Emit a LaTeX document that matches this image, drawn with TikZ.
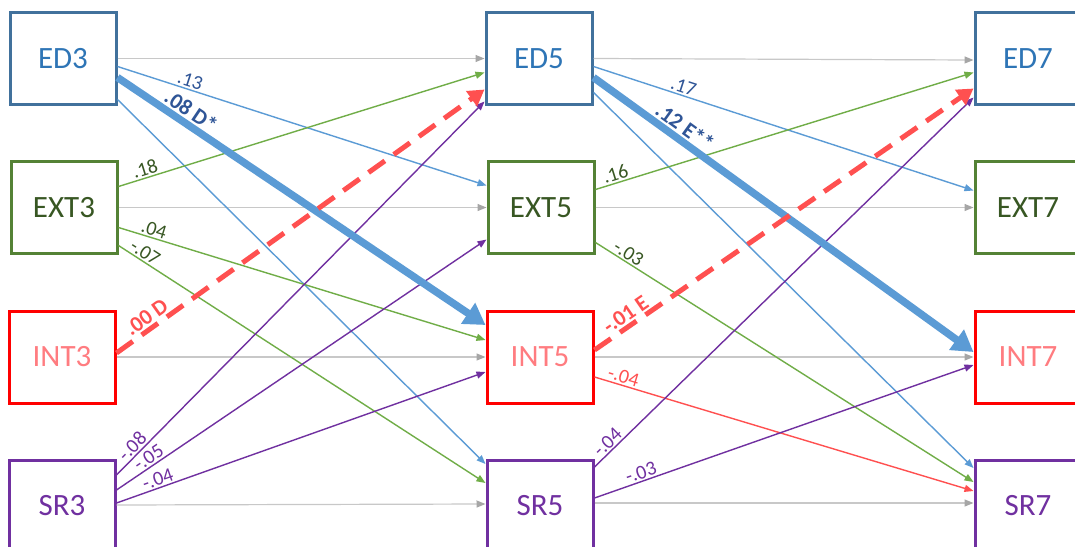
\documentclass[tikz,border=0pt]{standalone}
\usepackage{fontspec}
\setmainfont{Carlito}
\usetikzlibrary{arrows.meta,calc}
\definecolor{edborder}{HTML}{41719C}
\definecolor{edtext}{HTML}{2E75B6}
\definecolor{lb}{HTML}{5B9BD5}
\definecolor{dblue}{HTML}{2F5597}
\definecolor{extborder}{HTML}{548235}
\definecolor{exttext}{HTML}{385723}
\definecolor{lg}{HTML}{70AD47}
\definecolor{dgreen}{HTML}{385723}
\definecolor{intborder}{HTML}{FF0000}
\definecolor{inttext}{HTML}{FF7C80}
\definecolor{lr}{HTML}{FF5050}
\definecolor{pu}{HTML}{7030A0}
\definecolor{lgray}{HTML}{C8C8C8}
\definecolor{tgray}{HTML}{A6A6A6}
\begin{document}
\begin{tikzpicture}[x=1pt,y=-1pt,
  box/.style={rectangle, fill=white, minimum width=106pt, minimum height=92pt, line width=3pt, inner sep=0pt, font=\fontsize{31}{36}\selectfont},
  edbox/.style={box, draw=edborder, text=edtext},
  extbox/.style={box, draw=extborder, text=exttext},
  intbox/.style={box, draw=intborder, text=inttext},
  srbox/.style={box, draw=pu, text=pu},
  gline/.style={draw=lgray, line width=1.2pt, -{Triangle[length=9pt,width=7pt,color=tgray]}},
  arr/.style={line width=1.4pt, -{Triangle[length=9pt,width=7pt]}},
  thickb/.style={draw=lb, line width=7.5pt, -{Triangle[length=21pt,width=24pt]}},
  redd/.style={draw=lr, line width=5pt, dash pattern=on 20pt off 11pt, -{Triangle[length=16pt,width=18pt]}},
  lab/.style={sloped, above, inner sep=1.5pt, font=\fontsize{20}{22}\selectfont},
  blab/.style={sloped, above, inner sep=2pt, font=\bfseries\fontsize{22}{24}\selectfont}
]
\clip (0,0) rectangle (1075,546);
\fill[white] (0,0) rectangle (1075,546);
% boxes
\node[edbox]  (ED3)  at (63,58.5) {ED3};
\node[extbox] (EXT3) at (64,207.5) {EXT3};
\node[intbox] (INT3) at (62,357) {INT3};
\node[srbox]  (SR3)  at (62,506) {SR3};
\node[edbox]  (ED5)  at (539,58.5) {ED5};
\node[extbox] (EXT5) at (541,207.5) {EXT5};
\node[intbox] (INT5) at (540,357) {INT5};
\node[srbox]  (SR5)  at (540,506) {SR5};
\node[edbox]  (ED7)  at (1028,58.5) {ED7};
\node[extbox] (EXT7) at (1028,207.5) {EXT7};
\node[intbox] (INT7) at (1028,357) {INT7};
\node[srbox]  (SR7)  at (1028,506) {SR7};
% ---- wave 3 -> 5
\draw[gline] (ED3.east) -- (ED5.west);
\draw[gline] (EXT3.east) -- (EXT5.west);
\draw[gline] (INT3.east) -- (INT5.west);
\draw[gline] ($(SR3.east)+(0,-1)$) -- ($(SR5.west)+(0,-2)$);
\draw[arr, lb] ($(ED3.east)+(0,8)$) -- ($(EXT5.west)+(0,-22)$) node[lab, text=dblue, pos=0.19] {.13};
\draw[arr, lb] ($(ED3.east)+(0,41)$) -- ($(SR5.west)+(0,-42)$);
\draw[arr, lg] ($(EXT3.east)+(0,-21)$) -- ($(ED5.west)+(0,14)$) node[lab, text=dgreen, pos=0.08] {.18};
\draw[arr, lg] ($(EXT3.east)+(0,20)$) -- ($(INT5.west)+(0,-17)$) node[lab, text=dgreen, pos=0.09] {.04};
\draw[arr, lg] ($(EXT3.east)+(0,38)$) -- ($(SR5.west)+(0,-23)$) node[lab, text=dgreen, pos=0.06] {-.07};
\draw[arr, pu] ($(SR3.east)+(0,-31)$) -- ($(ED5.west)+(0,43)$) node[lab, text=pu, pos=0.06] {-.08};
\draw[arr, pu] ($(SR3.east)+(0,-16)$) -- ($(EXT5.west)+(0,32)$) node[lab, text=pu, pos=0.1] {-.05};
\draw[arr, pu] ($(SR3.east)+(0,-3)$) -- ($(INT5.west)+(0,15)$) node[lab, text=pu, pos=0.12] {-.04};
\draw[thickb] ($(ED3.east)+(0,19)$) -- ($(INT5.west)+(0,-32)$) node[blab, text=dblue, pos=0.18] {.08 D*};
\draw[redd] ($(INT3.east)+(0,-4)$) -- ($(ED5.west)+(0,31)$) node[blab, text=lr, pos=0.1] {.00 D};
% ---- wave 5 -> 7
\draw[gline] (ED5.east) -- ($(ED7.west)+(0,1.5)$);
\draw[gline] (EXT5.east) -- (EXT7.west);
\draw[gline] (INT5.east) -- (INT7.west);
\draw[gline] ($(SR5.east)+(0,-3)$) -- ($(SR7.west)+(0,-3)$);
\draw[arr, lb] ($(ED5.east)+(0,8)$) -- ($(EXT7.west)+(0,-17)$) node[lab, text=dblue, pos=0.23] {.17};
\draw[arr, lb] ($(ED5.east)+(0,34)$) -- ($(SR7.west)+(0,-38)$);
\draw[arr, lg] ($(EXT5.east)+(0,-18)$) -- ($(ED7.west)+(0,14)$) node[lab, text=dgreen, pos=0.06] {.16};
\draw[arr, lg] ($(EXT5.east)+(0,35)$) -- ($(SR7.west)+(0,-24)$) node[lab, text=dgreen, pos=0.075] {-.03};
\draw[arr, lr] ($(INT5.east)+(0,20)$) -- ($(SR7.west)+(0,-15)$) node[lab, text=lr, pos=0.07] {-.04};
\draw[arr, pu] ($(SR5.east)+(0,-39)$) -- ($(ED7.west)+(0,39)$) node[lab, text=pu, pos=0.05] {-.04};
\draw[arr, pu] ($(SR5.east)+(0,-8)$) -- ($(INT7.west)+(0,8)$) node[lab, text=pu, pos=0.13] {-.03};
\draw[thickb] ($(ED5.east)+(0,19)$) -- ($(INT7.west)+(0,-5)$) node[blab, text=dblue, pos=0.22] {.12 E**};
\draw[redd] ($(INT5.east)+(0,-7)$) -- ($(ED7.west)+(0,30)$) node[blab, text=lr, pos=0.1] {-.01 E};
\end{tikzpicture}
\end{document}
